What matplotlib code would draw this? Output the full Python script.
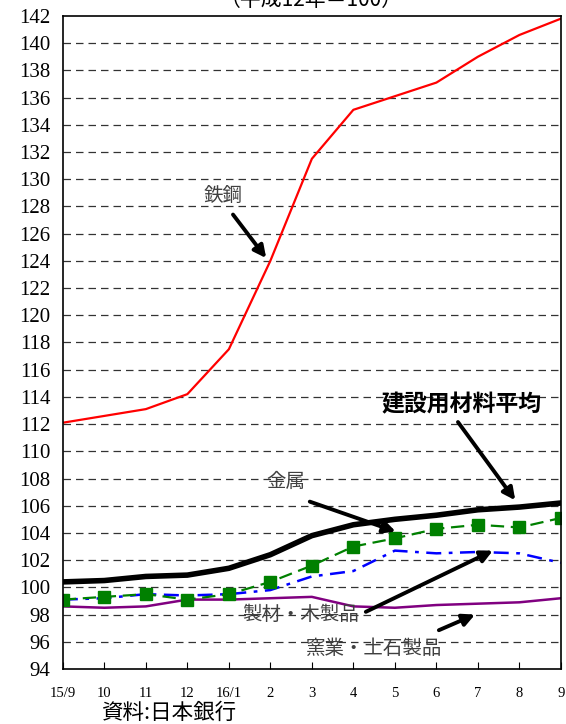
import numpy as np
import matplotlib.pyplot as plt

plt.rcParams['font.family'] = ['Liberation Serif', 'Noto Sans CJK JP']

# data
months = ['15/9', '10', '11', '12', '16/1', '2', '3', '4', '5', '6', '7', '8', '9']
steel = [112.1, 112.6, 113.1, 114.2, 117.5, 124.0, 131.5, 135.1, 136.1, 137.1, 139.0, 140.6, 141.8]
average = [100.4, 100.5, 100.8, 100.9, 101.4, 102.4, 103.8, 104.6, 105.0, 105.3, 105.7, 105.9, 106.2]
metal = [99.1, 99.3, 99.5, 99.1, 99.5, 100.4, 101.6, 103.0, 103.6, 104.3, 104.6, 104.4, 105.1]
lumber = [99.1, 99.2, 99.5, 99.4, 99.5, 99.8, 100.8, 101.2, 102.7, 102.5, 102.6, 102.5, 101.8]
ceramic = [98.6, 98.5, 98.6, 99.1, 99.1, 99.2, 99.3, 98.6, 98.5, 98.7, 98.8, 98.9, 99.2]

x = np.arange(len(months))

fig = plt.figure(figsize=(5.66, 7.24), dpi=100)
ax = fig.add_axes([0.111, 0.076, 0.880, 0.902])

ax.plot(x, ceramic, color='#800080', lw=1.8)
ax.plot(x, lumber, color='#0000ff', lw=1.8, dashes=(6, 3, 1.5, 3))
ax.plot(x, metal, color='#008000', lw=1.6, dashes=(6, 3),
        marker='s', markersize=8, markerfacecolor='#008000', markeredgecolor='#008000')
ax.plot(x, steel, color='#ff0000', lw=1.6)
ax.plot(x, average, color='black', lw=4)

ax.set_xlim(0, len(months) - 1)
ax.set_ylim(94, 142)
ax.set_yticks(np.arange(94, 143, 2))
ax.set_xticks(x)
ax.set_xticklabels(months, fontsize=10.5)
ax.tick_params(axis='x', direction='in', length=5, pad=13)
ax.tick_params(axis='y', length=0, pad=9, labelsize=15)
for gy in np.arange(96, 142, 2):
    ax.axhline(gy, color='#333333', lw=0.9, dashes=(6, 4), zorder=0)
for s in ax.spines.values():
    s.set_linewidth(1.2)

arrow = dict(arrowstyle='-|>', lw=2.8, color='black', mutation_scale=18, shrinkA=0, shrinkB=0)
lab = dict(fontsize=14, color='#404040', family=['Noto Sans CJK JP'], ha='center', va='center')

ax.annotate('', xy=(4.9, 124.2), xytext=(4.1, 127.4), arrowprops=arrow)
ax.text(3.85, 128.8, '鉄鋼', **lab)

ax.annotate('', xy=(8.02, 104.1), xytext=(5.95, 106.3), arrowprops=arrow)
ax.text(5.37, 107.8, '金属', **lab)

ax.annotate('', xy=(10.9, 106.4), xytext=(9.52, 112.15), arrowprops=arrow)
ax.text(9.6, 113.4, '建設用材料平均', fontsize=16.5, color='black', fontweight='bold',
        family=['Noto Sans CJK JP'], ha='center', va='center')

ax.annotate('', xy=(10.36, 102.7), xytext=(7.3, 98.2), arrowprops=arrow)
ax.text(5.73, 98.0, '製材・木製品', **lab)

ax.annotate('', xy=(9.93, 98.0), xytext=(9.06, 96.85), arrowprops=arrow)
ax.text(7.49, 95.5, '窯業・土石製品', **lab)

fig.text(0.55, 1.0, '（平成12年＝100）', fontsize=15, ha='center', va='center',
         family=['Noto Sans CJK JP'])
fig.text(0.297, 0.016, '資料:日本銀行', fontsize=15.5, ha='center', va='center',
         family=['Noto Sans CJK JP'])

fig.savefig('out.png', dpi=100)
